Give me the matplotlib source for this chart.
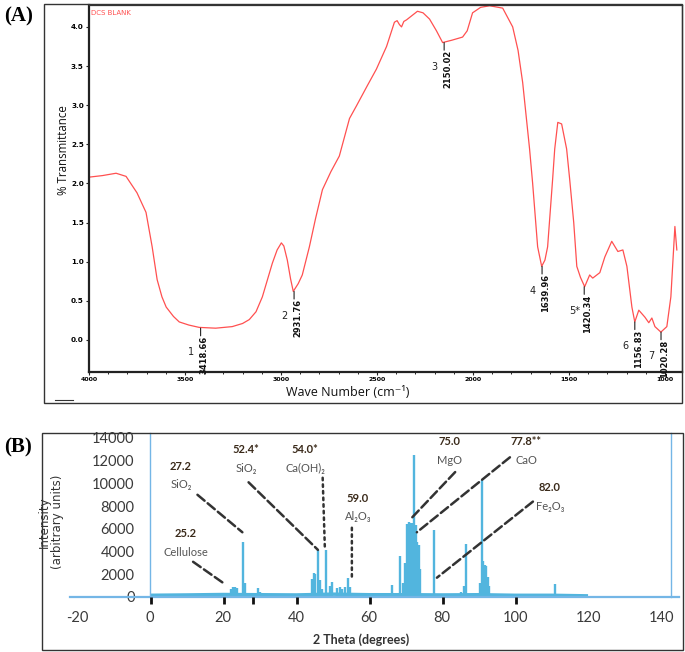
import matplotlib
matplotlib.use("Agg")
import matplotlib.pyplot as plt
from matplotlib.patches import Rectangle
from matplotlib.lines import Line2D

# ---------------- Panel A data (FTIR) ----------------
wavenumber = [4000, 3930, 3859, 3807, 3750, 3703, 3671, 3645, 3620, 3598, 3560, 3530, 3480,
              3426, 3340, 3254, 3200, 3165, 3130, 3097, 3045, 3020, 2998, 2985, 2967, 2950,
              2936, 2910, 2889, 2852, 2820, 2784, 2740, 2696, 2643, 2607, 2550, 2503, 2450,
              2409, 2395, 2383, 2372, 2360, 2346, 2289, 2260, 2226, 2190, 2158, 2110, 2054,
              2030, 2002, 1960, 1913, 1845, 1793, 1765, 1741, 1705, 1689, 1663, 1642, 1625,
              1611, 1585, 1574, 1558, 1538, 1512, 1496, 1475, 1459, 1440, 1418, 1392, 1376,
              1339, 1313, 1277, 1245, 1219, 1198, 1172, 1157, 1136, 1104, 1084, 1068, 1052,
              1021, 990, 969, 948, 938]
transmittance = [2.08, 2.10, 2.13, 2.09, 1.88, 1.63, 1.19, 0.77, 0.55, 0.42, 0.30, 0.23, 0.19,
                 0.16, 0.15, 0.17, 0.21, 0.26, 0.36, 0.55, 0.98, 1.15, 1.24, 1.20, 1.02, 0.78,
                 0.62, 0.72, 0.83, 1.19, 1.55, 1.92, 2.15, 2.35, 2.83, 2.99, 3.25, 3.46, 3.75,
                 4.06, 4.08, 4.03, 4.00, 4.07, 4.09, 4.20, 4.18, 4.10, 3.95, 3.80, 3.83, 3.87,
                 3.95, 4.18, 4.25, 4.27, 4.24, 4.00, 3.70, 3.29, 2.44, 2.00, 1.19, 0.94, 1.02,
                 1.19, 2.05, 2.44, 2.78, 2.76, 2.44, 2.05, 1.50, 0.94, 0.80, 0.68, 0.83, 0.79,
                 0.86, 1.06, 1.26, 1.13, 1.15, 0.94, 0.42, 0.23, 0.38, 0.29, 0.22, 0.28, 0.17,
                 0.10, 0.17, 0.55, 1.45, 1.15]
peak_wn = [3418.66, 2931.76, 2150.02, 1639.96, 1420.34, 1156.83, 1020.28]
peak_T = [0.15, 0.62, 3.80, 0.94, 0.68, 0.23, 0.10]
peak_idx = ["1", "2", "3", "4", "5*", "6", "7"]
a_yticks = [0.0, 0.5, 1.0, 1.5, 2.0, 2.5, 3.0, 3.5, 4.0]
a_xticks = [4000, 3500, 3000, 2500, 2000, 1500, 1000]

# ---------------- Panel B data (XRD) ----------------
xrd_2theta = [22.3, 22.8, 23.3, 23.8, 25.5, 25.9, 29.5, 30.0, 36.5, 38.8, 42.5, 44.5, 44.9,
              45.3, 46.1, 46.6, 47.2, 48.2, 49.3, 49.9, 51.2, 52.0, 52.6, 53.5, 54.3, 54.8,
              66.3, 68.5, 69.3, 69.9, 70.5, 70.9, 71.3, 71.7, 72.1, 72.4, 72.8, 73.2, 73.6,
              74.0, 77.8, 85.2, 86.1, 86.6, 90.4, 90.9, 91.3, 91.7, 92.1, 92.5, 93.0, 111.0]
xrd_intensity = [700, 850, 850, 800, 4800, 1200, 800, 400, 250, 300, 300, 1600, 2100,
                 2000, 4100, 1500, 700, 4100, 1000, 1300, 800, 900, 700, 900, 1700, 900,
                 1050, 3600, 1200, 3000, 6400, 6600, 6500, 6500, 6400, 12500, 6300, 4800, 4600,
                 2500, 5900, 400, 1000, 4700, 1200, 10300, 3200, 2800, 2700, 1800, 1000, 1150]
baseline_2theta = [0, 10, 20, 30, 40, 50, 60, 70, 80, 90, 100, 110, 120]
baseline_intensity = [150, 180, 220, 200, 180, 250, 200, 200, 180, 200, 150, 150, 100]
b_xticks = [-20, 0, 20, 40, 60, 80, 100, 120, 140]
b_marks = [0.3, 20.3, 28.2, 40.2, 60.2, 80.2, 100.2]
b_yticks = [0, 2000, 4000, 6000, 8000, 10000, 12000, 14000]

# annotations: (bold value, compound, text x, text y, line start, line end, style)
b_annots = [
    ("27.2", "SiO₂", 8.5, 11500, (13.0, 9000), (25.3, 5700), "--"),
    ("25.2", "Cellulose", 9.8, 5550, (11.8, 3100), (20.0, 1250), "--"),
    ("52.4*", "SiO₂", 26.3, 12950, (27.0, 10100), (46.0, 4150), "--"),
    ("54.0*", "Ca(OH)₂", 42.5, 12950, (47.3, 10500), (47.9, 4300), ":"),
    ("59.0", "Al₂O₃", 57.0, 8700, (55.3, 6100), (55.3, 1800), ":"),
    ("75.0", "MgO", 82.0, 13650, (83.6, 11000), (71.2, 6800), "--"),
    ("77.8**", "CaO", 103.0, 13650, (98.6, 12300), (73.1, 5700), "--"),
    ("82.0", "Fe₂O₃", 109.6, 9600, (104.9, 8400), (78.6, 1700), "--"),
]

W, H = 685, 652
fig = plt.figure(figsize=(W / 100, H / 100), dpi=100)


def fx(px):
    return px / W


def fy(py):
    return 1 - py / H


# outer frames
fig.patches.append(Rectangle((fx(44), fy(403)), fx(682) - fx(44), fy(4) - fy(403),
                             transform=fig.transFigure, fill=False, ec="#333333", lw=1.0))
fig.patches.append(Rectangle((fx(42), fy(650)), fx(683) - fx(42), fy(433) - fy(650),
                             transform=fig.transFigure, fill=False, ec="#333333", lw=1.0))
fig.lines.append(Line2D([fx(55), fx(73)], [fy(400), fy(400)], transform=fig.transFigure,
                        color="#333333", lw=0.8))

fig.text(fx(4), fy(16), "(A)", fontsize=15, fontweight="bold", family="Liberation Serif",
         va="center", ha="left")
fig.text(fx(4), fy(447), "(B)", fontsize=15, fontweight="bold", family="Liberation Serif",
         va="center", ha="left")

# ---------------- Panel A ----------------
axA = fig.add_axes([fx(89), fy(372), fx(682) - fx(89), fy(5) - fy(372)])
axA.plot(wavenumber, transmittance, color="#ff5050", lw=0.9)
axA.set_xlim(4000, 911)
axA.set_ylim(-0.41, 4.28)
axA.set_xticks(a_xticks)
axA.set_xticklabels([str(t) for t in a_xticks], fontsize=4.5, fontweight="bold")
axA.set_xticks(range(1100, 4000, 100), minor=True)
axA.set_yticks(a_yticks)
axA.set_yticklabels([f"{t:.1f}" for t in a_yticks], fontsize=5.2, fontweight="bold")
axA.tick_params(axis="both", which="major", length=2.5, width=0.8, pad=1.2, color="#222222")
axA.tick_params(axis="x", which="minor", length=1.5, width=0.6)
for s in ["left", "bottom"]:
    axA.spines[s].set_linewidth(1.6)
    axA.spines[s].set_color("#222222")
for s in ["top", "right"]:
    axA.spines[s].set_linewidth(0.9)
    axA.spines[s].set_color("#333333")

axA.text(4000 - 10, 4.22, "DCS BLANK", color="#ff5050", fontsize=5, va="top", ha="left")

for wn, t, idx in zip(peak_wn, peak_T, peak_idx):
    axA.annotate("", xy=(wn, t), xytext=(0, -5.5), textcoords="offset points",
                 arrowprops=dict(arrowstyle="-", color="#222222", lw=0.8, shrinkA=0, shrinkB=0))
    axA.annotate(f"{wn:.2f}", xy=(wn, t), xytext=(2.5, -5.5), textcoords="offset points",
                 rotation=90, ha="center", va="top", fontsize=6, fontweight="bold",
                 color="#111111")
    axA.annotate(idx, xy=(wn, t), xytext=(-7, -17.5), textcoords="offset points",
                 ha="center", va="center", fontsize=7, color="#222222")

fig.text(fx(63.5), fy(150), "% Transmittance", rotation=90, fontsize=8.3, ha="center",
         va="center", family=["Open Sans", "DejaVu Sans"], color="#111111")
fig.text(fx(348), fy(393), "Wave Number (cm⁻¹)", fontsize=9, ha="center", va="center",
         family=["Open Sans", "DejaVu Sans"], color="#111111")

# ---------------- Panel B ----------------
blue = "#52b5de"
axisblue = "#74b6e6"
axB = fig.add_axes([fx(69.7), fy(597), fx(679.3) - fx(69.7), fy(433) - fy(597)])
axB.set_xlim(-22, 145)
axB.set_ylim(0, 14440)
axB.plot(baseline_2theta, baseline_intensity, color=blue, lw=2.5, solid_capstyle="butt")
axB.vlines(xrd_2theta, 0, xrd_intensity, color=blue, lw=1.7)

axB.spines["top"].set_visible(False)
axB.spines["left"].set_position(("data", 0))
axB.spines["right"].set_position(("data", 142.7))
for s in ["left", "right", "bottom"]:
    axB.spines[s].set_color(axisblue)
    axB.spines[s].set_linewidth(1.0)
axB.spines["bottom"].set_linewidth(1.6)

axB.set_xticks(b_xticks)
axB.set_xticklabels([str(t) for t in b_xticks], fontsize=10.5, family="Lato", color="#3a3a3a")
axB.tick_params(axis="x", which="major", length=0, pad=10)
# short black tick marks below the baseline
axB.vlines(b_marks, -0.045, 0.0, transform=axB.get_xaxis_transform(), colors="#111111",
           lw=2.0, clip_on=False, zorder=5)
axB.set_yticks(b_yticks)
axB.set_yticklabels([str(t) for t in b_yticks], fontsize=10.5, family="Lato", color="#3a3a3a")
axB.tick_params(axis="y", which="major", length=0, pad=11)
axB.tick_params(right=False, labelright=False)

for val, comp, tx, ty, p0, p1, ls in b_annots:
    axB.text(tx, ty, val, fontsize=8, fontweight="bold", color="#3a2a1a", ha="center",
             va="center", family=["Lato", "DejaVu Sans"])
    axB.text(tx, ty - 1600, comp, fontsize=8, color="#555555", ha="center", va="center",
             family=["Lato", "DejaVu Sans"])
    axB.annotate("", xy=p1, xytext=p0,
                 arrowprops=dict(arrowstyle="-", color="#333333", lw=1.8, ls=ls,
                                 shrinkA=0, shrinkB=0))

fig.text(fx(51), fy(522), "Intensity\n(arbitrary units)", rotation=90, fontsize=8.5,
         ha="center", va="center", family="Liberation Sans Narrow", color="#333333",
         linespacing=1.05)
fig.text(fx(361), fy(640), "2 Theta (degrees)", fontsize=9, fontweight="bold",
         ha="center", va="center", family="Lato", color="#333333")

fig.savefig("out.png", dpi=100)
